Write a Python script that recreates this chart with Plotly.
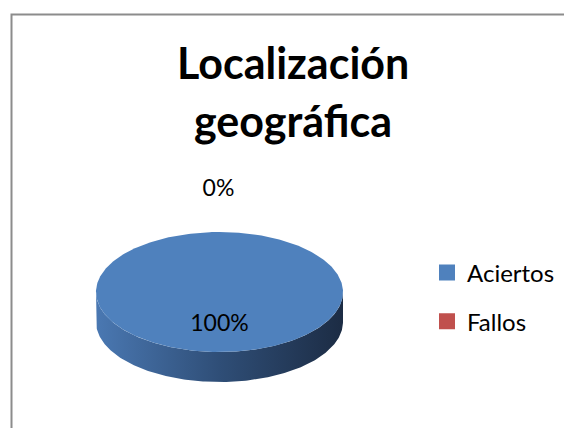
import numpy as np
import plotly.graph_objects as go

# ---- data ----
categories = ["Aciertos", "Fallos"]
values = [100, 0]
title_lines = ["Localización", "geográfica"]

# ---- style ----
W, H = 564, 428
colors_top = ["#4F81BD", "#C0504D"]
side_scales = [
    [[0, "#4A78B2"], [0.5, "#2F4E77"], [1, "#1C2C44"]],
    [[0, "#B04A47"], [0.5, "#7A3331"], [1, "#4A1F1E"]],
]
cx, cy, rx, ry, depth = 219.5, 292, 123.5, 60, 30
label_font = dict(family="Lato", size=23, color="#000000")

total = float(sum(values))
fracs = [v / total for v in values]
starts = np.cumsum([0] + fracs[:-1]) * 360.0


def ell(phi_deg, f=1.0, dy=0.0):
    p = np.radians(phi_deg)
    return cx + f * rx * np.sin(p), cy - f * ry * np.cos(p) + dy


fig = go.Figure()

# side bands (front half only)
for i, (s, fr) in enumerate(zip(starts, fracs)):
    e = s + fr * 360
    a, b = max(s, 90), min(e, 270)
    if fr <= 0 or b <= a:
        continue
    ph = np.linspace(a, b, 200)
    xt, yt = ell(ph)
    xb, yb = ell(ph[::-1], dy=depth)
    fig.add_trace(go.Scatter(
        x=np.r_[xt, xb, xt[:1]], y=np.r_[yt, yb, yt[:1]], mode="lines",
        fill="toself", line=dict(width=0),
        fillgradient=dict(type="horizontal", colorscale=side_scales[i]),
        showlegend=False, hoverinfo="skip"))

# top faces
for i, (s, fr) in enumerate(zip(starts, fracs)):
    if fr <= 0:
        continue
    e = s + fr * 360
    ph = np.linspace(s, e, 400)
    xt, yt = ell(ph)
    if fr < 1:
        xt = np.r_[cx, xt, cx]
        yt = np.r_[cy, yt, cy]
    fig.add_trace(go.Scatter(
        x=xt, y=yt, mode="lines", fill="toself", fillcolor=colors_top[i],
        line=dict(width=0), showlegend=False, hoverinfo="skip"))

# data labels
for i, (s, fr) in enumerate(zip(starts, fracs)):
    mid = s + fr * 180
    pct = f"{round(fr * 100)}%"
    if fr >= 0.05:
        x, y = ell(mid, f=0.55)
    else:
        x, y = ell(mid, f=1.0)
        x, y = x - 1, y - 42
    fig.add_trace(go.Scatter(x=[x], y=[y], mode="text", text=[pct],
                             textfont=label_font, showlegend=False,
                             hoverinfo="skip"))

# legend entries
for i, c in enumerate(categories):
    fig.add_trace(go.Scatter(x=[None], y=[None], mode="markers", name=c,
                             marker=dict(symbol="square", size=16,
                                         color=colors_top[i]),
                             legendgroup=c))

fig.add_annotation(x=292.5, y=79, text=f"<b>{title_lines[0]}</b>",
                   showarrow=False, yanchor="bottom", yshift=-11,
                   font=dict(family="Lato", size=43, color="#000000"))
fig.add_annotation(x=292.5, y=137, text=f"<b>{title_lines[1]}</b>",
                   showarrow=False, yanchor="bottom", yshift=-11,
                   font=dict(family="Lato", size=43, color="#000000"))

fig.add_shape(type="rect", x0=11.5, y0=14.5, x1=700, y1=700,
              line=dict(color="#8C8C8C", width=2), layer="above")

fig.update_layout(
    width=W, height=H, margin=dict(l=0, r=0, t=0, b=0),
    paper_bgcolor="white", plot_bgcolor="white",
    xaxis=dict(range=[0, W], visible=False, fixedrange=True),
    yaxis=dict(range=[H, 0], visible=False, fixedrange=True),
    legend=dict(x=427 / W, y=1 - 250.5 / H, xanchor="left", yanchor="top",
                font=dict(family="Lato", size=24, color="#000000"),
                tracegroupgap=14.5, itemwidth=30, bgcolor="rgba(0,0,0,0)"),
    showlegend=True,
)

fig.write_html("out.html", config={"displayModeBar": False},
               post_script="document.body.style.margin='0';"
                           "document.body.style.overflow='hidden';")
